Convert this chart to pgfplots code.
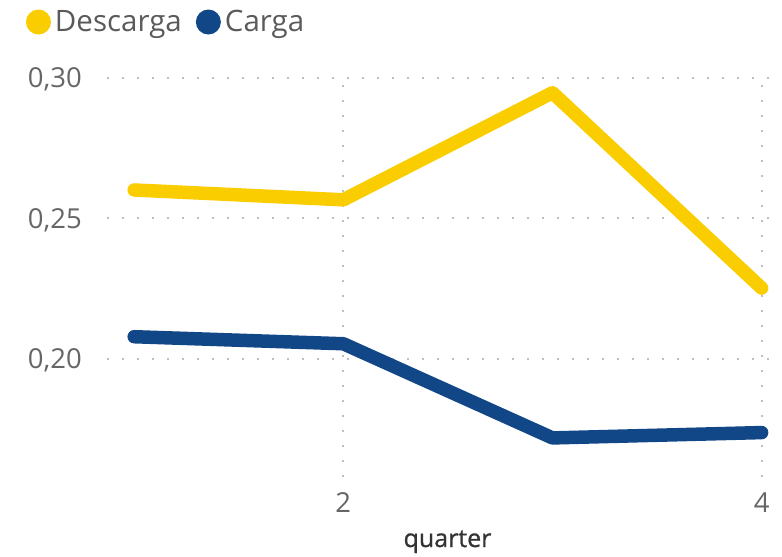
\documentclass[border=0pt]{standalone}
\usepackage{pgfplots}
\pgfplotsset{compat=1.18}
\usepackage{fontspec}
\setmainfont{Open Sans}
\newfontfamily\semib{Open Sans}[FakeBold=0.8]
\definecolor{pbyellow}{RGB}{250,205,0}
\definecolor{pbblue}{RGB}{17,70,135}
\definecolor{ticktext}{RGB}{102,102,102}
\definecolor{legtext}{RGB}{90,90,90}
\definecolor{gridc}{RGB}{190,190,190}
\begin{document}
\begin{tikzpicture}
\path[use as bounding box] (0,0) rectangle (782bp,557bp);
\begin{axis}[
  at={(107bp,80bp)}, anchor=south west,
  scale only axis, width=663bp, height=402bp,
  xmin=0.87, xmax=4.04, ymin=0.158, ymax=0.301,
  xtick={2,4}, xticklabels={2,4},
  ytick={0.20,0.25,0.30},
  yticklabels={{0,20},{0,25},{0,30}},
  axis line style={draw=none}, tick style={draw=none},
  grid=major, major grid style={gridc, line width=2bp, dash pattern=on 2bp off 13bp},
  yticklabel style={anchor=base east, inner sep=0pt, xshift=-25bp, yshift=-10bp, font=\fontsize{27.5bp}{30bp}\selectfont, text=ticktext},
  xticklabel style={anchor=base, inner sep=0pt, yshift=-35bp, font=\fontsize{27.5bp}{30bp}\selectfont, text=ticktext},
  xlabel={quarter},
  xlabel style={at={(axis description cs:0.5,0)}, anchor=base, xshift=9bp, yshift=-70bp, inner sep=0pt, font=\semib\fontsize{25bp}{28bp}\selectfont, text=black!80},
  legend columns=2,
  legend style={draw=none, fill=none, inner sep=0pt, outer sep=0pt, at={(-0.1222,1.1318)}, anchor=west,
    font=\fontsize{29.5bp}{32bp}\selectfont, text=legtext,
    nodes={inner xsep=4bp, inner ysep=0pt},
    /tikz/every even column/.append style={column sep=10bp}},
  legend image code/.code={\fill[#1, draw=none] (0bp,0bp) circle (12.5bp);},
]
\addplot[pbyellow, line width=13.5bp, line cap=round, line join=round] table {
x y
1 0.2601
2 0.2566
3 0.2947
4 0.2252
};
\addlegendentry{Descarga}
\addplot[pbblue, line width=13.5bp, line cap=round, line join=round] table {
x y
1 0.2079
2 0.2054
3 0.1719
4 0.1738
};
\addlegendentry{Carga}
\end{axis}
\end{tikzpicture}
\end{document}
